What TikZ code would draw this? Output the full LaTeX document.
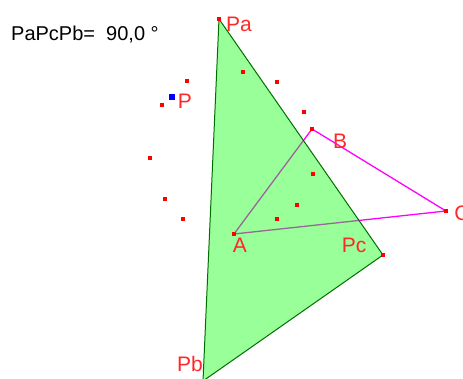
\documentclass[tikz,border=0pt]{standalone}
\usepackage{fontspec}
\setmainfont{Liberation Sans}
\usetikzlibrary{positioning}
\definecolor{ggbgreen}{RGB}{0,255,0}
\definecolor{ggbedge}{RGB}{0,110,0}
\definecolor{ggbred}{RGB}{255,0,0}
\definecolor{ggblabel}{RGB}{255,40,40}
\definecolor{ggbmagenta}{RGB}{255,0,255}

\begin{document}
\begin{tikzpicture}[x=1pt,y=-1pt]
\tikzstyle{dot}=[fill=ggbred,inner sep=0pt,minimum size=4.5pt]
\tikzstyle{lbl}=[text=ggblabel,font=\fontsize{21}{21}\selectfont,inner sep=0pt]
\useasboundingbox (0,0) rectangle (463,379);
% triangle Pa Pc Pb and points
\coordinate (Pb) at (203,381);
\coordinate (Pa) at (219,19);
\coordinate (Pc) at (383,255);
\coordinate (A) at (234,234);
\coordinate (B) at (312,129);
\coordinate (C) at (446,211);
% triangle ABC
\draw[ggbmagenta,line width=1.3pt] (A) -- (B) -- (C) -- cycle;
\fill[ggbgreen,fill opacity=0.4] (Pa) -- (Pc) -- (Pb) -- cycle;
\draw[ggbedge,line width=1pt] (Pa) -- (Pc) -- (Pb) -- cycle;
% points
\foreach \n in {Pa,Pc,A,B,C} \node[dot] (d\n) at (\n) {};
\foreach \px/\py [count=\i] in {187/81,162/105,243/72,277/82,304/112,150/158,165/199,183/219,313/174,297/205,277/219}
  \node[dot] (s\i) at (\px,\py) {};
\node[fill=blue,inner sep=0pt,minimum size=6.5pt] (P) at (172,97) {};
% labels
\node[lbl] (laPa) at (239,24) {Pa};
\node[lbl] (laP) at (185,101) {P};
\node[lbl] (laB) at (340,141) {B};
\node[lbl] (laA) at (240,245) {A};
\node[lbl] (laPc) at (354,245) {Pc};
\node[lbl] (laC) at (462,213) {C};
\node[lbl] (laPb) at (190,364) {Pb};
\node[font=\fontsize{20}{20}\selectfont,inner sep=0pt,anchor=west] (angle) at (11,35) {PaPcPb=\ \ 90,0 °};
\end{tikzpicture}
\end{document}
